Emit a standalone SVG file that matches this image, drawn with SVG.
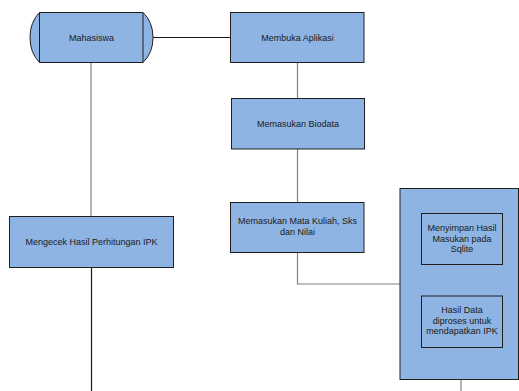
<svg xmlns="http://www.w3.org/2000/svg" width="519" height="391" viewBox="0 0 519 391">
<style>
.box{fill:#8eb4e3;stroke:#1e1e1e;stroke-width:1}
.t{font-family:"Liberation Sans",Arial,sans-serif;font-size:9px;fill:#1a1a1a;text-anchor:middle}
.c{fill:none;stroke-width:1.2}
.g{stroke:#808080}
.k{stroke:#1a1a1a}
</style>
<rect width="519" height="391" fill="#ffffff"/>
<g id="connectors">
<path class="c k" d="M153,37.5 H230.5"/>
<path class="c g" d="M91,63 V216.5"/>
<path class="c k" d="M91.5,268 V391"/>
<path class="c g" d="M297.5,63 V98"/>
<path class="c g" d="M297.5,149 V202"/>
<path class="c g" d="M297.5,253 V284 H400"/>
<path class="c g" d="M461,379 V391"/>
</g>
<g id="mahasiswa">
<path class="box" d="M39.5,12.5 H143 Q153,22 153,37.5 Q153,53 143,62.5 H39.5 Q30,53 30,37.5 Q30,22 39.5,12.5 Z"/>
<path d="M39.5,12.5 V62.5 M143,12.5 V62.5" stroke="#1e1e1e" fill="none"/>
<text class="t" x="91.5" y="40.5">Mahasiswa</text>
</g>
<g id="membuka">
<rect class="box" x="230.5" y="12.5" width="133.5" height="50"/>
<text class="t" x="297.5" y="40.5">Membuka Aplikasi</text>
</g>
<g id="biodata">
<rect class="box" x="231.5" y="98.5" width="133" height="50.5"/>
<text class="t" x="298" y="126.5">Memasukan Biodata</text>
</g>
<g id="matakuliah">
<rect class="box" x="230.5" y="202.5" width="133.5" height="50"/>
<text class="t" x="297.5" y="224">Memasukan Mata Kuliah, Sks</text>
<text class="t" x="297.5" y="235">dan Nilai</text>
</g>
<g id="mengecek">
<rect class="box" x="9.5" y="216.5" width="164" height="51"/>
<text class="t" x="91.5" y="245">Mengecek Hasil Perhitungan IPK</text>
</g>
<g id="proses">
<rect class="box" x="400" y="188.5" width="118.5" height="191"/>
</g>
<g id="menyimpan">
<rect class="box" x="421.5" y="213.5" width="81" height="51"/>
<text class="t" x="462" y="231">Menyimpan Hasil</text>
<text class="t" x="462" y="241.5">Masukan pada</text>
<text class="t" x="462" y="252">Sqlite</text>
</g>
<g id="hasildata">
<rect class="box" x="421.5" y="296" width="81" height="51.5"/>
<text class="t" x="462" y="313">Hasil Data</text>
<text class="t" x="462" y="323.5">diproses untuk</text>
<text class="t" x="462" y="334">mendapatkan IPK</text>
</g>
</svg>
